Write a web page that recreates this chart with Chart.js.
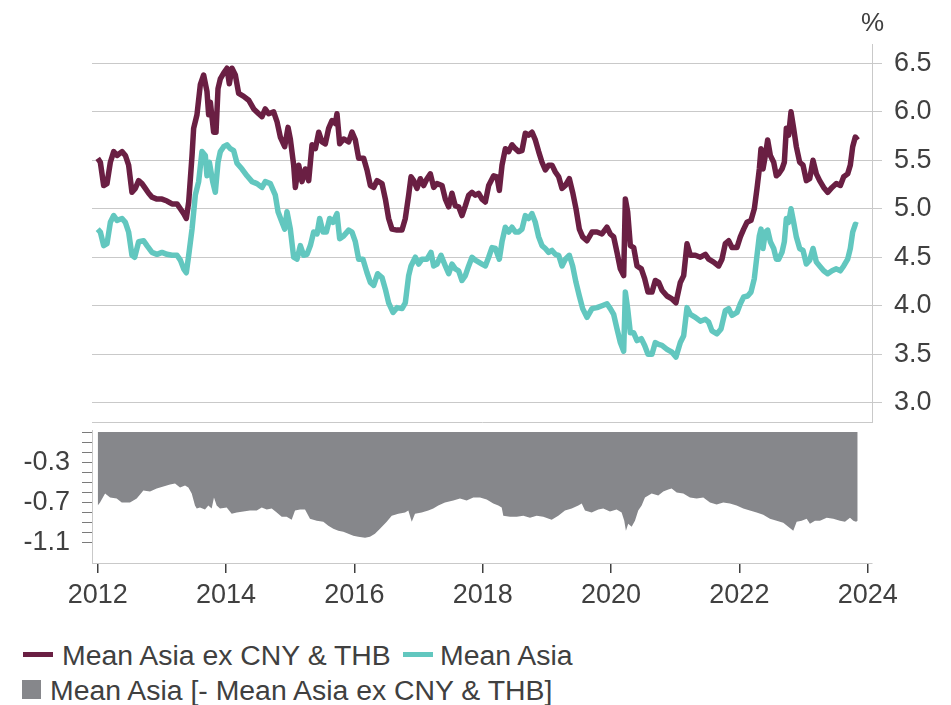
<!DOCTYPE html>
<html>
<head>
<meta charset="utf-8">
<script src="https://cdn.jsdelivr.net/npm/chart.js@4.4.0/dist/chart.umd.min.js"></script>
<style>
  html, body { margin: 0; padding: 0; background: #ffffff; }
  #wrap { position: relative; width: 951px; height: 705px; overflow: hidden; font-family: "Liberation Sans", Arial, Helvetica, sans-serif; color: #404040; }
  canvas { position: absolute; left: 0; }
  #topChart { top: 0; }
  #bottomChart { top: 420px; }
  .txt { position: absolute; white-space: nowrap; line-height: 32px; font-size: 28.4px; }
  .unit { position: absolute; left: 861px; top: 7px; font-size: 26px; line-height: 30px; }
  .sw { position: absolute; }
</style>
</head>
<body>
<div id="wrap">
  <canvas id="topChart" width="951" height="430"></canvas>
  <canvas id="bottomChart" width="951" height="200"></canvas>
  <div class="unit">%</div>
  <div class="sw" style="left:23px; top:652px; width:30px; height:5px; background:#6a1f43;"></div>
  <div class="txt" style="left:62px; top:639px;">Mean Asia ex CNY &amp; THB</div>
  <div class="sw" style="left:403px; top:652px; width:30px; height:5px; background:#62c7bf;"></div>
  <div class="txt" style="left:440px; top:639px;">Mean Asia</div>
  <div class="sw" style="left:22px; top:680px; width:19px; height:19px; background:#86878b;"></div>
  <div class="txt" style="left:50px; top:674px;">Mean Asia [- Mean Asia ex CNY &amp; THB]</div>
</div>
<script>
// ---------- data (decimal years, %) ----------
const exYears = [2012.000,2012.041,2012.093,2012.145,2012.197,2012.249,2012.301,2012.379,2012.431,2012.482,2012.534,2012.586,2012.638,2012.690,2012.742,2012.794,2012.846,2012.924,2013.002,2013.080,2013.158,2013.236,2013.288,2013.340,2013.381,2013.418,2013.470,2013.495,2013.547,2013.599,2013.651,2013.703,2013.729,2013.755,2013.807,2013.844,2013.875,2013.911,2013.963,2014.015,2014.051,2014.093,2014.145,2014.197,2014.275,2014.353,2014.431,2014.509,2014.560,2014.612,2014.664,2014.742,2014.794,2014.846,2014.914,2014.966,2015.002,2015.054,2015.080,2015.132,2015.184,2015.236,2015.288,2015.340,2015.392,2015.444,2015.495,2015.547,2015.599,2015.651,2015.703,2015.729,2015.771,2015.833,2015.911,2015.963,2016.015,2016.067,2016.145,2016.197,2016.249,2016.301,2016.353,2016.431,2016.483,2016.534,2016.586,2016.664,2016.742,2016.794,2016.846,2016.883,2016.924,2016.976,2017.028,2017.080,2017.132,2017.184,2017.236,2017.288,2017.366,2017.418,2017.470,2017.521,2017.573,2017.625,2017.677,2017.729,2017.781,2017.833,2017.885,2017.937,2017.989,2018.041,2018.093,2018.171,2018.223,2018.259,2018.301,2018.353,2018.405,2018.457,2018.509,2018.560,2018.612,2018.664,2018.716,2018.768,2018.820,2018.872,2018.924,2018.976,2019.028,2019.080,2019.132,2019.184,2019.236,2019.288,2019.350,2019.402,2019.454,2019.506,2019.558,2019.625,2019.703,2019.781,2019.859,2019.937,2019.989,2020.041,2020.093,2020.145,2020.197,2020.223,2020.259,2020.301,2020.353,2020.405,2020.472,2020.524,2020.576,2020.638,2020.690,2020.742,2020.794,2020.872,2020.950,2021.012,2021.080,2021.132,2021.184,2021.236,2021.314,2021.392,2021.470,2021.522,2021.599,2021.677,2021.729,2021.781,2021.833,2021.885,2021.963,2022.015,2022.067,2022.119,2022.181,2022.233,2022.275,2022.311,2022.337,2022.368,2022.405,2022.441,2022.483,2022.535,2022.576,2022.612,2022.664,2022.701,2022.732,2022.768,2022.805,2022.846,2022.888,2022.940,2022.992,2023.044,2023.096,2023.148,2023.200,2023.251,2023.314,2023.376,2023.444,2023.511,2023.574,2023.626,2023.688,2023.729,2023.766,2023.807,2023.844];
const exValues = [5.52,5.48,5.24,5.26,5.48,5.59,5.55,5.59,5.55,5.45,5.17,5.21,5.29,5.26,5.21,5.16,5.12,5.10,5.10,5.08,5.05,5.05,5.00,4.95,4.90,5.07,5.55,5.83,5.97,6.28,6.38,6.21,5.97,6.10,5.79,5.79,6.24,6.34,6.40,6.45,6.29,6.45,6.38,6.19,6.16,6.12,6.03,5.98,5.95,6.03,5.98,6.00,5.90,5.74,5.64,5.84,5.72,5.45,5.22,5.45,5.28,5.41,5.29,5.66,5.62,5.79,5.69,5.67,5.83,5.91,5.88,5.98,5.67,5.72,5.69,5.79,5.71,5.52,5.52,5.40,5.24,5.22,5.29,5.26,5.10,4.90,4.79,4.78,4.78,4.90,5.14,5.33,5.29,5.21,5.31,5.24,5.31,5.36,5.22,5.26,5.24,5.10,5.02,5.16,5.03,5.02,4.93,5.03,5.14,5.17,5.14,5.16,5.10,5.07,5.24,5.34,5.33,5.19,5.45,5.62,5.59,5.66,5.62,5.59,5.60,5.78,5.76,5.79,5.71,5.59,5.48,5.40,5.45,5.45,5.38,5.33,5.21,5.24,5.31,5.17,5.00,4.79,4.71,4.67,4.76,4.76,4.74,4.81,4.74,4.71,4.55,4.38,4.31,5.10,4.97,4.62,4.60,4.41,4.38,4.28,4.14,4.14,4.26,4.24,4.16,4.10,4.07,4.03,4.24,4.31,4.64,4.52,4.52,4.50,4.53,4.48,4.45,4.41,4.48,4.64,4.67,4.60,4.60,4.71,4.79,4.86,4.88,5.00,5.21,5.41,5.62,5.41,5.55,5.71,5.55,5.48,5.34,5.36,5.41,5.48,5.83,5.76,6.00,5.83,5.64,5.48,5.45,5.29,5.31,5.50,5.36,5.29,5.22,5.17,5.22,5.26,5.24,5.33,5.36,5.45,5.64,5.74,5.71];

const asiaYears = [2012.000,2012.041,2012.093,2012.145,2012.197,2012.249,2012.301,2012.379,2012.431,2012.482,2012.534,2012.576,2012.638,2012.716,2012.768,2012.846,2012.924,2013.002,2013.080,2013.158,2013.236,2013.288,2013.340,2013.381,2013.418,2013.470,2013.521,2013.573,2013.625,2013.677,2013.703,2013.740,2013.792,2013.833,2013.875,2013.911,2013.963,2014.015,2014.067,2014.119,2014.171,2014.249,2014.327,2014.405,2014.482,2014.560,2014.612,2014.690,2014.768,2014.810,2014.862,2014.914,2014.950,2015.002,2015.054,2015.106,2015.158,2015.210,2015.262,2015.314,2015.366,2015.418,2015.459,2015.511,2015.563,2015.615,2015.667,2015.729,2015.771,2015.833,2015.911,2015.963,2016.015,2016.067,2016.134,2016.197,2016.249,2016.301,2016.363,2016.431,2016.483,2016.534,2016.602,2016.664,2016.742,2016.794,2016.846,2016.883,2016.950,2017.002,2017.054,2017.132,2017.194,2017.236,2017.288,2017.350,2017.418,2017.470,2017.521,2017.573,2017.625,2017.677,2017.729,2017.781,2017.833,2017.885,2017.937,2017.989,2018.041,2018.093,2018.145,2018.197,2018.259,2018.301,2018.353,2018.405,2018.457,2018.509,2018.560,2018.612,2018.664,2018.716,2018.768,2018.820,2018.872,2018.924,2018.976,2019.028,2019.080,2019.132,2019.184,2019.236,2019.288,2019.350,2019.402,2019.454,2019.506,2019.558,2019.625,2019.703,2019.781,2019.859,2019.937,2019.989,2020.041,2020.093,2020.145,2020.197,2020.223,2020.259,2020.301,2020.353,2020.405,2020.472,2020.524,2020.576,2020.638,2020.690,2020.742,2020.794,2020.872,2020.950,2021.012,2021.080,2021.132,2021.184,2021.236,2021.314,2021.392,2021.470,2021.522,2021.573,2021.651,2021.714,2021.781,2021.833,2021.885,2021.963,2022.015,2022.067,2022.129,2022.181,2022.233,2022.275,2022.311,2022.337,2022.368,2022.405,2022.441,2022.483,2022.535,2022.576,2022.612,2022.664,2022.701,2022.732,2022.768,2022.805,2022.846,2022.888,2022.940,2022.992,2023.044,2023.096,2023.148,2023.200,2023.251,2023.314,2023.376,2023.444,2023.511,2023.574,2023.626,2023.688,2023.729,2023.766,2023.807,2023.844];
const asiaValues = [4.79,4.76,4.62,4.64,4.86,4.93,4.88,4.90,4.86,4.76,4.52,4.50,4.66,4.67,4.62,4.55,4.53,4.55,4.53,4.52,4.52,4.47,4.38,4.34,4.52,4.79,5.14,5.28,5.59,5.55,5.34,5.48,5.28,5.17,5.48,5.59,5.64,5.66,5.62,5.60,5.47,5.41,5.34,5.28,5.26,5.22,5.28,5.26,5.14,4.97,4.88,4.79,4.97,4.79,4.50,4.48,4.62,4.52,4.53,4.62,4.76,4.74,4.90,4.76,4.76,4.90,4.86,4.95,4.69,4.72,4.78,4.76,4.66,4.48,4.48,4.34,4.24,4.21,4.33,4.29,4.17,4.03,3.93,3.98,3.97,4.03,4.31,4.41,4.50,4.43,4.48,4.48,4.55,4.41,4.43,4.52,4.41,4.33,4.43,4.38,4.36,4.26,4.31,4.41,4.50,4.47,4.45,4.43,4.41,4.50,4.60,4.59,4.48,4.66,4.81,4.76,4.81,4.76,4.76,4.79,4.93,4.90,4.95,4.86,4.71,4.62,4.59,4.55,4.57,4.53,4.52,4.41,4.48,4.52,4.41,4.24,4.10,3.97,3.88,3.97,3.98,4.00,4.02,3.97,3.91,3.76,3.62,3.53,4.14,3.97,3.72,3.72,3.64,3.66,3.59,3.50,3.50,3.62,3.60,3.59,3.55,3.52,3.47,3.62,3.69,3.98,3.91,3.88,3.84,3.86,3.83,3.74,3.71,3.76,3.95,3.97,3.90,3.93,4.02,4.09,4.10,4.14,4.28,4.52,4.72,4.79,4.59,4.76,4.78,4.66,4.59,4.48,4.48,4.55,4.66,4.90,4.86,5.00,4.86,4.71,4.59,4.57,4.43,4.47,4.59,4.45,4.41,4.36,4.33,4.36,4.38,4.36,4.41,4.48,4.59,4.76,4.84,4.83];

const diffYears = [2012.000,2012.036,2012.115,2012.193,2012.296,2012.374,2012.503,2012.608,2012.686,2012.711,2012.815,2012.919,2013.023,2013.127,2013.205,2013.283,2013.361,2013.413,2013.465,2013.516,2013.543,2013.594,2013.672,2013.724,2013.776,2013.812,2013.854,2013.906,2014.010,2014.088,2014.166,2014.269,2014.373,2014.478,2014.556,2014.634,2014.712,2014.790,2014.867,2014.945,2015.023,2015.075,2015.153,2015.231,2015.308,2015.413,2015.516,2015.594,2015.672,2015.750,2015.828,2015.906,2015.983,2016.061,2016.166,2016.243,2016.321,2016.399,2016.504,2016.582,2016.685,2016.790,2016.841,2016.894,2016.945,2017.049,2017.152,2017.230,2017.308,2017.412,2017.542,2017.646,2017.750,2017.853,2017.958,2018.062,2018.165,2018.243,2018.296,2018.321,2018.425,2018.530,2018.633,2018.737,2018.841,2018.944,2019.075,2019.178,2019.282,2019.387,2019.490,2019.543,2019.594,2019.698,2019.801,2019.879,2019.983,2020.087,2020.165,2020.206,2020.232,2020.268,2020.321,2020.373,2020.424,2020.477,2020.529,2020.633,2020.736,2020.814,2020.892,2020.945,2021.023,2021.126,2021.230,2021.334,2021.438,2021.542,2021.646,2021.749,2021.853,2021.957,2022.061,2022.164,2022.269,2022.372,2022.476,2022.581,2022.684,2022.762,2022.840,2022.893,2022.971,2023.049,2023.100,2023.178,2023.256,2023.361,2023.464,2023.568,2023.646,2023.724,2023.776,2023.818,2023.844];
const diffValues = [-0.73,-0.70,-0.61,-0.65,-0.66,-0.70,-0.70,-0.66,-0.60,-0.58,-0.59,-0.56,-0.54,-0.52,-0.51,-0.55,-0.53,-0.55,-0.61,-0.73,-0.76,-0.75,-0.77,-0.73,-0.76,-0.65,-0.73,-0.76,-0.75,-0.81,-0.80,-0.79,-0.78,-0.78,-0.75,-0.77,-0.76,-0.80,-0.84,-0.84,-0.87,-0.78,-0.77,-0.77,-0.86,-0.88,-0.89,-0.93,-0.96,-0.98,-0.99,-1.01,-1.03,-1.04,-1.05,-1.04,-1.01,-0.96,-0.89,-0.83,-0.81,-0.80,-0.78,-0.89,-0.81,-0.80,-0.78,-0.76,-0.73,-0.70,-0.68,-0.66,-0.68,-0.65,-0.65,-0.67,-0.71,-0.73,-0.75,-0.83,-0.84,-0.84,-0.83,-0.85,-0.83,-0.84,-0.87,-0.83,-0.78,-0.76,-0.73,-0.71,-0.78,-0.80,-0.77,-0.76,-0.79,-0.77,-0.80,-0.88,-0.98,-0.91,-0.94,-0.88,-0.78,-0.73,-0.65,-0.61,-0.63,-0.59,-0.57,-0.56,-0.60,-0.61,-0.65,-0.66,-0.65,-0.70,-0.72,-0.70,-0.71,-0.73,-0.76,-0.78,-0.80,-0.82,-0.86,-0.88,-0.90,-0.94,-0.98,-0.89,-0.88,-0.86,-0.91,-0.88,-0.88,-0.85,-0.86,-0.88,-0.89,-0.85,-0.88,-0.89,-0.88];

const xTicks = [2012, 2014, 2016, 2018, 2020, 2022, 2024];
const topTicks = [3.0, 3.5, 4.0, 4.5, 5.0, 5.5, 6.0, 6.5];
const bottomTicks = [0, -0.1, -0.2, -0.3, -0.4, -0.5, -0.6, -0.7, -0.8, -0.9, -1.0, -1.1];
const bottomLabels = [-0.3, -0.7, -1.1];

// ---------- styling ----------
const FONT = '"Liberation Sans", Arial, Helvetica, sans-serif';
const TEXT = '#404040';
const GRID = '#c9c9c9';
const MAROON = '#6a1f43';
const TEAL = '#62c7bf';
const GRAY = '#86878b';
const X_MIN = 2011.911, X_MAX = 2024.067;

const toPts = (xs, ys) => xs.map((x, i) => ({ x: x, y: ys[i] }));
const noPad = s => { s.paddingTop = 0; s.paddingBottom = 0; s.paddingLeft = 0; s.paddingRight = 0; };

new Chart(document.getElementById('topChart'), {
  type: 'line',
  data: {
    datasets: [
      { label: 'Mean Asia ex CNY & THB', data: toPts(exYears, exValues), borderColor: MAROON, borderWidth: 5.5, pointRadius: 0, tension: 0, fill: false, borderJoinStyle: 'round' },
      { label: 'Mean Asia', data: toPts(asiaYears, asiaValues), borderColor: TEAL, borderWidth: 5.5, pointRadius: 0, tension: 0, fill: false, borderJoinStyle: 'round' }
    ]
  },
  options: {
    responsive: false, animation: false, devicePixelRatio: 1,
    layout: { padding: { left: 92, top: 44, right: 0, bottom: 8 } },
    plugins: { legend: { display: false }, tooltip: { enabled: false } },
    scales: {
      x: {
        type: 'linear', min: X_MIN, max: X_MAX,
        ticks: { display: false }, grid: { display: false },
        border: { display: true, color: GRID, width: 1 },
        afterFit: s => { s.height = 0; noPad(s); }
      },
      y: {
        position: 'right', min: 2.8, max: 6.7,
        afterBuildTicks: s => { s.ticks = topTicks.map(v => ({ value: v })); },
        ticks: { callback: v => Number(v).toFixed(1), font: { family: FONT, size: 27 }, color: TEXT, padding: 12, autoSkip: false },
        grid: { color: GRID, lineWidth: 1, tickLength: 10 },
        border: { display: true, color: GRID, width: 1 },
        afterFit: s => { s.width = 79; noPad(s); }
      }
    }
  }
});

new Chart(document.getElementById('bottomChart'), {
  type: 'line',
  data: {
    datasets: [
      { label: 'Mean Asia [- Mean Asia ex CNY & THB]', data: toPts(diffYears, diffValues), borderWidth: 0, borderColor: 'rgba(0,0,0,0)', backgroundColor: GRAY, fill: 'origin', pointRadius: 0, tension: 0 }
    ]
  },
  options: {
    responsive: false, animation: false, devicePixelRatio: 1,
    layout: { padding: { left: 0, top: 10, right: 79, bottom: 0 } },
    plugins: { legend: { display: false }, tooltip: { enabled: false } },
    scales: {
      x: {
        type: 'linear', min: X_MIN, max: X_MAX,
        afterBuildTicks: s => { s.ticks = xTicks.map(v => ({ value: v })); },
        ticks: { callback: v => String(v), font: { family: FONT, size: 27 }, color: TEXT, padding: 6, maxRotation: 0, autoSkip: false },
        grid: { drawOnChartArea: false, drawTicks: true, tickLength: 10, color: '#404040', lineWidth: 1.5 },
        border: { display: true, color: GRID, width: 1 },
        afterFit: s => { s.height = 57; noPad(s); }
      },
      y: {
        position: 'left', min: -1.3, max: 0.02,
        afterBuildTicks: s => { s.ticks = bottomTicks.map(v => ({ value: v })); },
        ticks: {
          callback: v => bottomLabels.some(l => Math.abs(l - v) < 1e-6) ? Number(v).toFixed(1) : '',
          font: { family: FONT, size: 27 }, color: TEXT, padding: 12, autoSkip: false
        },
        grid: { drawOnChartArea: false, drawTicks: true, tickLength: 10, color: '#7a7a7a', lineWidth: 1 },
        border: { display: true, color: GRID, width: 1 },
        afterFit: s => { s.width = 92; noPad(s); }
      }
    }
  }
});
</script>
</body>
</html>
